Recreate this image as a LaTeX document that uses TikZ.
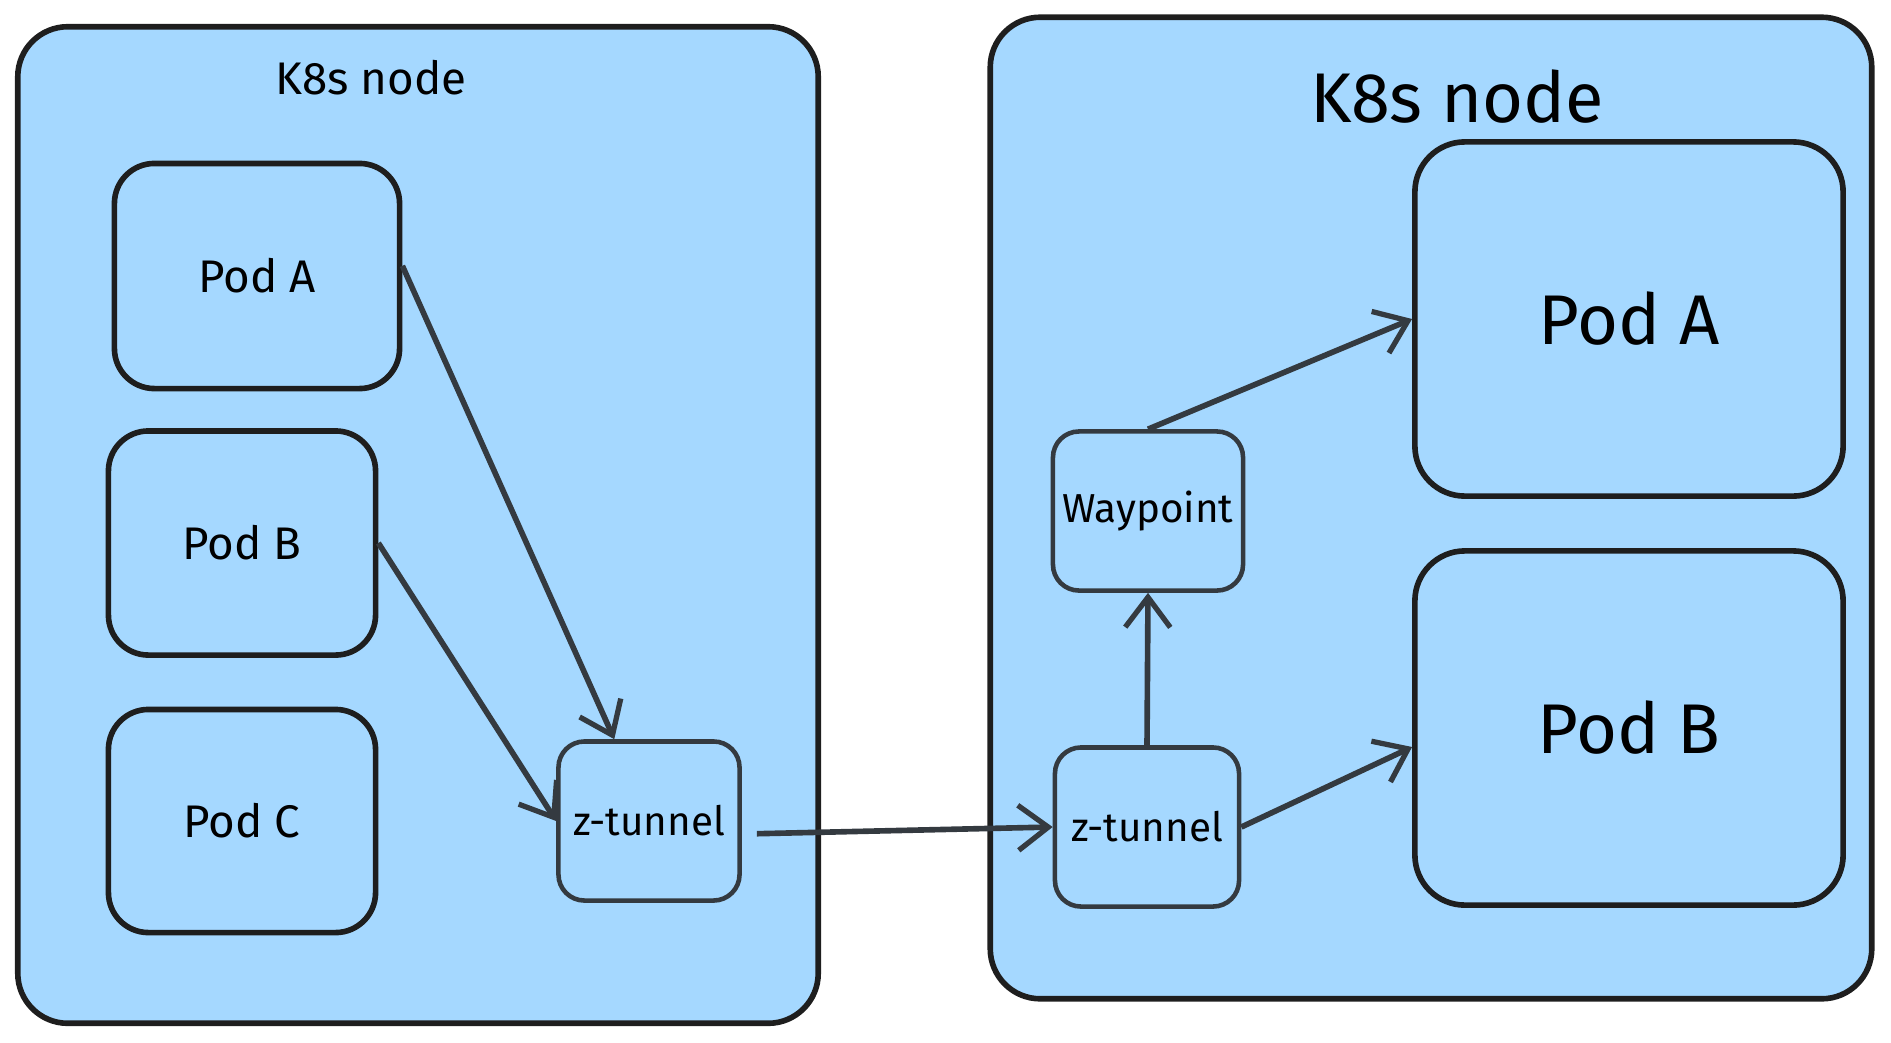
\documentclass[tikz,border=0pt]{standalone}
\usepackage{fontspec}
\setmainfont{Fira Sans}
\usetikzlibrary{arrows.meta}
\definecolor{podfill}{HTML}{A5D8FF}
\definecolor{podink}{HTML}{1E1E1E}
\definecolor{flowink}{HTML}{343A40}
\begin{document}
\begin{tikzpicture}[x=0.01cm,y=-0.01cm,
        host/.style={draw=podink,fill=podfill,rectangle,rounded corners=5mm,line width=1.6pt},
        pod/.style={draw=podink,fill=podfill,rectangle,rounded corners=4mm,line width=1.6pt},
        bigpod/.style={pod,rounded corners=5mm,minimum width=4.28cm,minimum height=3.54cm,font=\fontsize{20}{24}\selectfont},
        tun/.style={draw=flowink,fill=podfill,rectangle,rounded corners=2.6mm,line width=1.3pt,inner sep=1pt,font=\fontsize{11.5}{14}\selectfont},
        flow/.style={draw=flowink,line width=1.6pt,-{Straight Barb[length=3mm,width=4.5mm,line width=1.5pt]}}
      ]
      \useasboundingbox (0,0) rectangle (1891,1042);
      % hosts
      \node[host,minimum width=8cm,minimum height=9.96cm] (hostL) at (418,525) {};
      \node[host,minimum width=8.81cm,minimum height=9.81cm] (hostR) at (1431,508) {};
      \node[font=\fontsize{13}{16}\selectfont] (titleL) at (371,78) {K8s node};
      \node[font=\fontsize{20}{24}\selectfont] (titleR) at (1457,97) {K8s node};
      % left side
      \node[pod,minimum width=2.85cm,minimum height=2.25cm,font=\fontsize{13}{16}\selectfont] (podLA) at (257,276) {Pod A};
      \node[pod,minimum width=2.67cm,minimum height=2.24cm,font=\fontsize{13}{16}\selectfont] (podLB) at (242,543) {Pod B};
      \node[pod,minimum width=2.67cm,minimum height=2.23cm,font=\fontsize{13}{16}\selectfont] (podLC) at (242,821) {Pod C};
      \node[tun,minimum width=1.81cm,minimum height=1.59cm] (ztunL) at (649,821) {z-tunnel};
      % right side
      \node[tun,minimum width=1.84cm,minimum height=1.59cm] (ztunR) at (1147,827) {z-tunnel};
      \node[tun,minimum width=1.90cm,minimum height=1.59cm] (wayp) at (1148,511) {Waypoint};
      \node[bigpod] (podRA) at (1629,319) {Pod A};
      \node[bigpod] (podRB) at (1629,728) {Pod B};
      % traffic
      \draw[flow] (podLA.4) -- (ztunL.113);
      \draw[flow] (podLB.east) -- (ztunL.west);
      \draw[flow,shorten <=15*0.01cm] (ztunL.-8) -- (ztunR.west);
      \draw[flow] (ztunR.north) -- (wayp.south);
      \draw[flow] (wayp.north) -- (podRA.west);
      \draw[flow] (ztunR.east) -- (podRB.185);
    \end{tikzpicture}
\end{document}
